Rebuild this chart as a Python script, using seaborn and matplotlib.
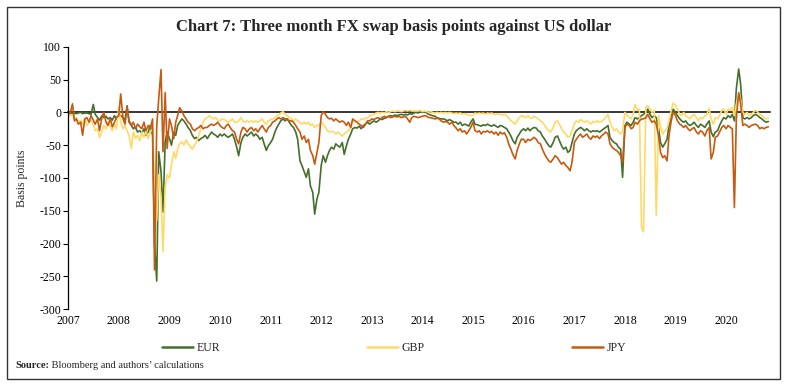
import matplotlib
matplotlib.use("Agg")
import matplotlib.pyplot as plt
from matplotlib.lines import Line2D
from matplotlib.patches import Rectangle
import numpy as np
import pandas as pd
import seaborn as sns

# ---------------- data (semi-monthly readings, 1st and 15th of each month) ----------------
eur = [
    # 2007
    2, 0, -2, -1, -2, -1, 0, -2, -1, -1, -2, -3, 12, -3, -8, -12, -5, -8, -6, -10, -8, -12, -5, -10,
    # 2008
    -3, -5, -8, -12, 10, -15, -20, -25, -22, -30, -28, -32, -25, -35, -30, -20, -35, -200, -257, -60, -90, -152, -45, -30,
    # 2009
    -40, -50, -30, -35, -20, -15, -10, -13, -18, -23, -28, -35, -40, -38, -43, -40, -38, -35, -40, -35, -30, -33, -35, -38,
    # 2010
    -33, -36, -33, -36, -38, -36, -33, -41, -53, -66, -46, -38, -33, -36, -33, -30, -36, -33, -36, -41, -38, -48, -58, -51,
    # 2011
    -46, -41, -30, -23, -18, -13, -10, -13, -10, -15, -20, -23, -30, -41, -74, -81, -91, -99, -86, -112, -122, -155, -132, -122,
    # 2012
    -81, -66, -76, -66, -58, -53, -56, -48, -51, -53, -46, -64, -51, -41, -33, -25, -23, -24, -21, -25, -20, -18, -15, -18,
    # 2013
    -15, -13, -15, -13, -10, -11, -9, -8, -6, -5, -6, -4, -5, -4, -3, -4, -3, -4, -2, -3, -1, 0, -1, 1,
    # 2014
    0, 1, -1, -3, -4, -5, -6, -8, -9, -10, -10, -11, -13, -11, -13, -15, -15, -18, -15, -20, -18, -19, -21, -15,
    # 2015
    -10, -18, -19, -20, -21, -19, -20, -18, -20, -21, -19, -21, -23, -20, -21, -23, -25, -30, -36, -43, -48, -38, -33, -28,
    # 2016
    -25, -28, -24, -28, -25, -23, -24, -28, -30, -36, -41, -46, -51, -53, -46, -38, -36, -43, -51, -56, -53, -61, -58, -46,
    # 2017
    -33, -28, -25, -23, -25, -28, -25, -28, -30, -28, -29, -28, -30, -28, -25, -23, -20, -38, -43, -46, -48, -53, -56, -99,
    # 2018
    -20, -15, -18, -20, -15, -8, -10, -8, -5, -3, 0, 5, -3, -8, -5, -8, -25, -46, -53, -48, -41, -20, -8, 5,
    # 2019
    0, -5, -10, -13, -15, -13, -18, -20, -18, -15, -20, -23, -18, -20, -23, -18, -13, -30, -37, -30, -28, -20, -13, -8,
    # 2020
    -10, -5, -8, -3, -13, 36, 66, 43, -8, -10, -8, -10, -8, -5, -3, -5, -8, -10, -13, -15, -14,
]

gbp = [
    # 2007
    -3, -5, -4, -10, -8, -15, -12, -18, -10, -20, -15, -12, -18, -28, -25, -38, -30, -20, -25, -15, -22, -28, -18, -25,
    # 2008
    8, -15, -25, -20, -28, -35, -55, -30, -40, -35, -43, -30, -38, -28, -40, -30, -25, -100, -165, -95, -130, -212, -115, -95,
    # 2009
    -100, -80, -60, -70, -55, -48, -45, -50, -42, -48, -52, -56, -50, -45, -35, -25, -15, -10, -8, -5, -8, -10, -8, -12,
    # 2010
    -13, -10, -11, -13, -15, -13, -10, -15, -15, -13, -8, -13, -15, -13, -15, -13, -15, -13, -15, -13, -10, -15, -18, -13,
    # 2011
    -11, -10, -8, -5, -4, -1, 1, -3, -5, -8, -10, -13, -10, -13, -15, -18, -15, -18, -15, -20, -18, -23, -20, -20,
    # 2012
    -15, -18, -23, -28, -30, -29, -30, -33, -30, -33, -36, -33, -30, -28, -23, -15, -13, -15, -13, -10, -11, -9, -8, -5,
    # 2013
    -4, -3, -1, 0, -1, 0, -1, 1, 0, 1, 2, 1, 2, 2, 1, 2, 3, 2, 3, 2, 2, 2, 2, 3,
    # 2014
    1, 2, 1, 0, 1, 0, -1, 0, -1, 0, -1, 0, -1, 0, -1, -2, -1, -2, -1, -3, -2, -3, -4, -5,
    # 2015
    -4, -1, -2, -1, -2, -1, -3, -1, -2, -1, -3, -3, -2, -3, -4, -3, -5, -9, -13, -15, -18, -13, -8, -5,
    # 2016
    -6, -8, -5, -8, -9, -6, -8, -10, -13, -15, -20, -25, -28, -30, -23, -15, -13, -18, -25, -30, -33, -38, -36, -28,
    # 2017
    -18, -13, -15, -11, -13, -15, -13, -15, -18, -14, -15, -13, -15, -14, -11, -8, -3, -15, -23, -28, -25, -30, -33, -28,
    # 2018
    0, -4, -8, -10, -3, 12, 3, 5, -175, -182, 8, 10, 5, 0, 3, -157, -5, -23, -33, -28, -25, -13, 3, 14,
    # 2019
    10, 5, -3, -5, 0, -5, -8, -10, -5, -3, -8, -13, -8, -10, -5, -3, 6, -10, -18, -8, -10, -5, 3, 5,
    # 2020
    -3, 5, 3, 8, -5, 13, 25, 20, 0, -3, 0, -5, -3, 0, 3, 1, -3, -5, -8, -10, -9,
]

jpy = [
    # 2007
    3, -2, 13, -13, -10, -18, -15, -35, -10, -8, -15, -5, -12, -18, -10, -28, -8, 0, -15, -20, -10, -22, -15, -8,
    # 2008
    -5, 28, -10, -18, 8, -12, -20, -15, -25, -18, -22, -25, -15, -28, -20, -25, -10, -240, -20, 20, 65, -60, 30, -55,
    # 2009
    -10, -20, -40, -15, -5, 7, 2, -5, -10, -15, -18, -25, -28, -25, -23, -20, -25, -23, -23, -20, -18, -20, -18, -15,
    # 2010
    -20, -23, -25, -20, -18, -23, -28, -30, -41, -48, -30, -23, -25, -30, -25, -23, -28, -25, -30, -25, -20, -25, -30, -23,
    # 2011
    -20, -15, -13, -10, -8, -10, -8, -10, -10, -13, -13, -15, -20, -25, -30, -41, -36, -46, -41, -58, -66, -79, -61, -46,
    # 2012
    -5, 1, -3, -8, -10, -9, -13, -10, -13, -15, -13, -15, -20, -15, -23, -10, -13, -15, -18, -20, -23, -18, -13, -13,
    # 2013
    -10, -11, -9, -8, -10, -8, -6, -8, -6, -8, -7, -6, -7, -6, -8, -7, -6, -10, -15, -8, -6, -7, -8, -7,
    # 2014
    -6, -5, -6, -8, -8, -9, -10, -9, -10, -13, -15, -14, -15, -18, -15, -20, -24, -28, -25, -30, -28, -33, -28, -23,
    # 2015
    -15, -28, -30, -28, -33, -29, -30, -28, -31, -29, -33, -30, -35, -30, -33, -31, -38, -48, -56, -64, -71, -58, -48, -41,
    # 2016
    -41, -46, -41, -43, -41, -38, -41, -46, -48, -56, -64, -69, -74, -76, -71, -66, -69, -74, -79, -76, -81, -84, -89, -76,
    # 2017
    -46, -41, -36, -33, -38, -36, -33, -38, -41, -36, -38, -36, -40, -36, -33, -30, -33, -48, -53, -56, -58, -61, -66, -76,
    # 2018
    -23, -18, -20, -25, -23, -15, -18, -13, -10, -10, -8, -3, -10, -15, -13, -18, -36, -61, -69, -66, -74, -36, -13, 0,
    # 2019
    -5, -13, -18, -20, -23, -20, -25, -28, -25, -23, -30, -33, -28, -30, -36, -28, -23, -71, -61, -38, -36, -30, -23, -20,
    # 2020
    -25, -20, -23, -25, -145, -10, 30, 13, -20, -18, -20, -23, -20, -19, -18, -20, -25, -23, -25, -23, -22,
]

series_names = ["EUR", "GBP", "JPY"]
year_labels = [str(y) for y in range(2007, 2021)]
y_ticks = [100, 50, 0, -50, -100, -150, -200, -250, -300]
title = "Chart 7: Three month FX swap basis points against US dollar"
y_title = "Basis points"
source_bold = "Source:"
source_rest = " Bloomberg and authors\u2019 calculations"

# ---------------- styling ----------------
colors = {"EUR": "#44702c", "GBP": "#ffd966", "JPY": "#c55a11"}
W, H = 787, 387

sns.set_theme(style="white")
plt.rcParams["font.family"] = ["Liberation Serif", "DejaVu Serif"]

dates = pd.date_range("2007-01-01", "2020-11-01", freq="SMS")
wide = pd.DataFrame({"date": dates, "EUR": eur, "GBP": gbp, "JPY": jpy})
df = wide.melt(id_vars="date", var_name="Currency", value_name="bp")

fig = plt.figure(figsize=(W / 100, H / 100), dpi=100)
ax_left, ax_right, ax_top, ax_bot = 68.2, 770.0, 46.7, 309.3
ax = fig.add_axes([ax_left / W, 1 - ax_bot / H, (ax_right - ax_left) / W, (ax_bot - ax_top) / H])

sns.lineplot(data=df, x="date", y="bp", hue="Currency", hue_order=series_names,
             palette=colors, linewidth=1.2, ax=ax, legend=False, estimator=None)

ax.set_xlim(pd.Timestamp("2007-01-01"), pd.Timestamp("2020-11-13"))
ax.set_ylim(-300, 100)
ax.set_yticks(y_ticks)
ax.set_yticklabels([str(v) for v in y_ticks])
ax.set_xticks([pd.Timestamp(f"{y}-01-01") for y in year_labels])
ax.set_xticklabels(year_labels)
ax.set_xlabel("")
ax.set_ylabel("")
ax.grid(False)

for s in ["top", "right"]:
    ax.spines[s].set_visible(False)
ax.spines["left"].set_color("black")
ax.spines["left"].set_linewidth(0.9)
ax.spines["bottom"].set_position(("data", 0))
ax.spines["bottom"].set_color("black")
ax.spines["bottom"].set_linewidth(1.1)
ax.spines["bottom"].set_zorder(1)

ax.tick_params(axis="x", direction="in", length=2.5, width=0.8, color="black",
               pad=146, labelsize=8.5, labelcolor="black")
ax.tick_params(axis="y", direction="out", length=3.5, width=0.8, color="black",
               pad=1.5, labelsize=8.5, labelcolor="black", left=True)

fig.text(22 / W, 1 - 178 / H, y_title, rotation=90, ha="center", va="center", fontsize=8.5)
fig.text(0.5, 1 - 27 / H, title, ha="center", va="center", fontsize=12, fontweight="bold")

handles = [Line2D([0], [0], color=colors[n], lw=1.8) for n in series_names]
fig.legend(handles, series_names, loc="center", bbox_to_anchor=(394 / W, 1 - 348 / H),
           ncol=3, frameon=False, fontsize=8.5, handlelength=2.6, handletextpad=0.3,
           columnspacing=12.5)

t1 = fig.text(15 / W, 1 - 366 / H, source_bold, ha="left", va="center", fontsize=7.5, fontweight="bold")
fig.canvas.draw()
bb = t1.get_window_extent(renderer=fig.canvas.get_renderer())
fig.text(bb.x1 / W, 1 - 366 / H, source_rest, ha="left", va="center", fontsize=7.5)

fig.add_artist(Rectangle((7 / W, 1 - 379 / H), (780 - 7) / W, (379 - 7) / H,
                         transform=fig.transFigure, fill=False, edgecolor="#333333", lw=1.0))

fig.savefig("out.png", dpi=100)
